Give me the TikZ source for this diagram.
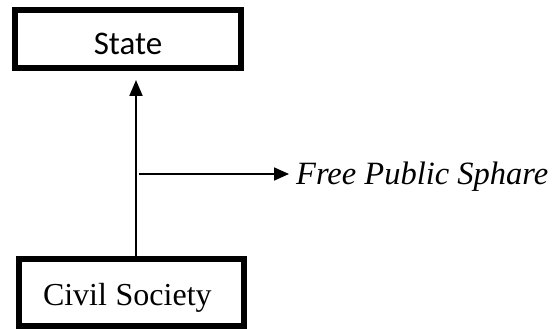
\documentclass[tikz,border=0pt]{standalone}
\usepackage{fontspec}
\setmainfont{Liberation Serif}
\newfontfamily\calibrilike{Carlito}
\usetikzlibrary{arrows.meta}

\begin{document}
\begin{tikzpicture}[x=1pt, y=-1pt,
  framebox/.style={draw=black, line width=6pt, fill=white, inner sep=0pt,
                   font=\fontsize{32}{38}\selectfont},
  flow/.style={draw=black, line width=2pt,
               -{Triangle[length=16pt, width=13pt]}}
]
  \useasboundingbox (0,0) rectangle (552,329);

  % upper box
  \node[framebox, minimum width=226pt, minimum height=58pt,
        text height=32pt, text depth=0pt, font=\fontsize{33}{39}\calibrilike]
        (state) at (128,39) {State};

  % lower box, text set a little left of centre
  \node[framebox, minimum width=225pt, minimum height=67pt,
        text width=177pt, inner xsep=24pt, align=left,
        text height=25pt, text depth=0pt]
        (civil) at (131.5,292.5) {Civil\hspace{-2pt} Society};

  % label of the side branch
  \node[inner sep=0pt, anchor=base west,
        font=\fontsize{32.5}{38}\selectfont\itshape]
        (sphere) at (296,184) {Free Public Sphare};

  \coordinate (stem) at (136,0);
  \coordinate (fork) at (139,174);

  % main upward connector
  \draw[flow, shorten >=9pt] (civil.north -| stem) -- (state.south -| stem);
  % side branch
  \draw[flow, line width=1.8pt, -{Triangle[length=15pt, width=13pt]},
        shorten >=7pt] (fork) -- (sphere.west |- fork);
\end{tikzpicture}
\end{document}
